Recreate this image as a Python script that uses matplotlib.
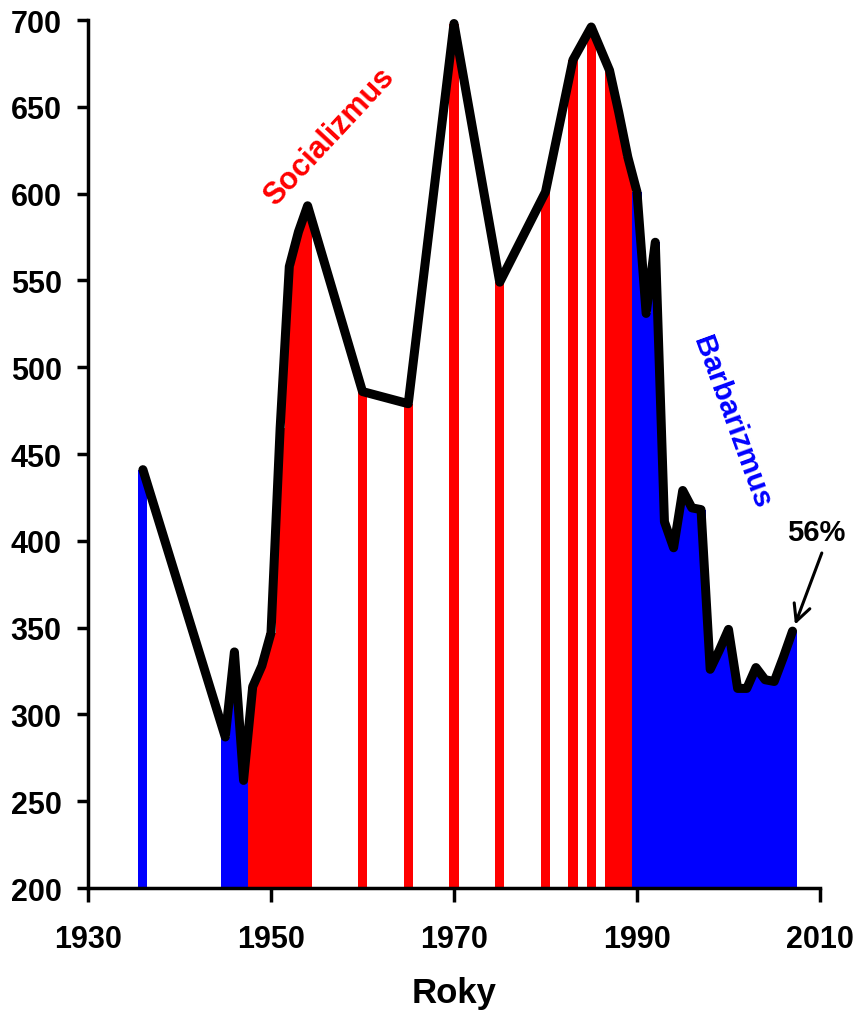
import matplotlib
matplotlib.use("Agg")
import matplotlib.pyplot as plt

plt.rcParams['font.family'] = ['Liberation Sans', 'DejaVu Sans']
plt.rcParams['font.weight'] = 'bold'

# roky a hodnoty (odcitane z grafu)
years = [1936, 1945, 1946, 1947, 1948, 1949, 1950, 1951, 1952, 1953, 1954,
         1960, 1965, 1970, 1975, 1980, 1983, 1985, 1987, 1988, 1989,
         1990, 1991, 1992, 1993, 1994, 1995, 1996, 1997, 1998, 1999,
         2000, 2001, 2002, 2003, 2004, 2005, 2006, 2007]
values = [441, 287, 336, 262, 316, 328, 347, 465, 558, 578, 593,
          486, 479, 698, 549, 601, 677, 696, 671, 647, 621,
          601, 531, 572, 411, 396, 429, 419, 418, 326, 337,
          349, 315, 315, 327, 320, 319, 333, 348]
socialism_start = 1948
socialism_end = 1989

x_ticks = [1930, 1950, 1970, 1990, 2010]
y_ticks = [200, 250, 300, 350, 400, 450, 500, 550, 600, 650, 700]

colors = ['#FF0000' if socialism_start <= y <= socialism_end else '#0000FF'
          for y in years]

fig = plt.figure(figsize=(8.57, 10.12), dpi=100)
ax = fig.add_axes([0.1027, 0.1215, 0.8541, 0.8577])

ax.bar(years, values, width=1.0, color=colors, linewidth=0, zorder=1)
ax.plot(years, values, color='black', linewidth=6.5, solid_joinstyle='round',
        solid_capstyle='round', zorder=3, clip_on=False)

ax.set_xlim(1930, 2010)
ax.set_ylim(200, 700)
ax.set_xticks(x_ticks)
ax.set_yticks(y_ticks)

for side in ['top', 'right']:
    ax.spines[side].set_visible(False)
for side in ['left', 'bottom']:
    ax.spines[side].set_linewidth(2.5)

ax.tick_params(axis='x', direction='out', length=10, width=2.5, pad=16,
               labelsize=22)
ax.tick_params(axis='y', direction='out', length=8, width=2.5, pad=11,
               labelsize=22)
for lab in ax.get_xticklabels() + ax.get_yticklabels():
    lab.set_fontweight('bold')

ax.set_xlabel('Roky', fontsize=25, fontweight='bold', labelpad=16)

ax.text(1956.4, 633, 'Socializmus', color='#FF0000', fontsize=22,
        fontweight='bold', rotation=47, ha='center', va='center',
        rotation_mode='anchor')
ax.text(2000.3, 469, 'Barbarizmus', color='#0000FF', fontsize=21.5,
        fontweight='bold', rotation=-70, ha='center', va='center',
        rotation_mode='anchor')

ax.text(2009.6, 405, '56%', fontsize=21, fontweight='bold',
        ha='center', va='center', clip_on=False)
ax.annotate('', xy=(years[-1], values[-1]), xytext=(2010.2, 393),
            arrowprops=dict(arrowstyle='->', color='black', lw=2.2,
                            mutation_scale=30, shrinkA=0, shrinkB=5),
            annotation_clip=False)

fig.savefig('out.png', dpi=100)
